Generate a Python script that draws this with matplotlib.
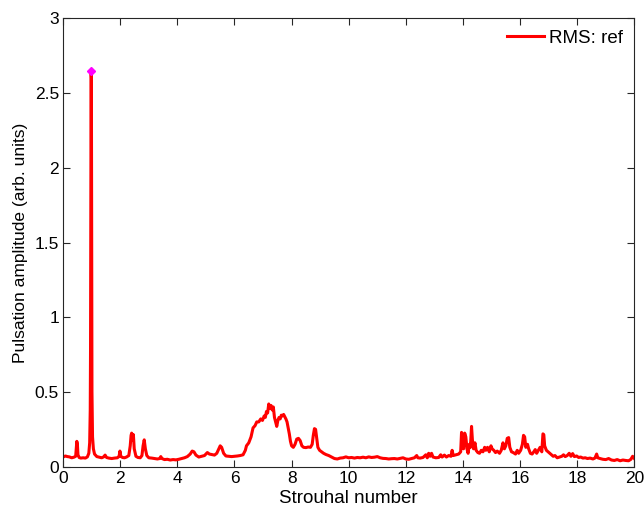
import matplotlib
matplotlib.use("Agg")
import matplotlib.pyplot as plt

plt.rcParams['font.family'] = ['Liberation Sans', 'DejaVu Sans']

# Spectre de pulsation (RMS) en fonction du nombre de Strouhal
strouhal = [
    0.00, 0.08, 0.15, 0.22, 0.30, 0.38, 0.44, 0.46, 0.48, 0.50, 0.52, 0.56, 0.62, 0.70, 0.78, 0.85,
    0.90, 0.93, 0.95, 0.96, 0.97, 0.98, 0.99, 1.00, 1.01, 1.03, 1.06, 1.10, 1.18, 1.26, 1.35, 1.42,
    1.47, 1.52, 1.60, 1.70, 1.80, 1.90, 1.96, 1.99, 2.02, 2.08, 2.15, 2.22, 2.30, 2.35, 2.38, 2.40,
    2.43, 2.46, 2.49, 2.55, 2.62, 2.70, 2.76, 2.80, 2.84, 2.88, 2.93, 3.00, 3.10, 3.20, 3.30, 3.38,
    3.42, 3.46, 3.55, 3.65, 3.75, 3.85, 3.95, 4.05, 4.15, 4.25, 4.35, 4.45, 4.52, 4.58, 4.65, 4.75,
    4.85, 4.95, 5.05, 5.12, 5.20, 5.30, 5.38, 5.45, 5.50, 5.55, 5.62, 5.70, 5.80, 5.90, 6.00, 6.10,
    6.20, 6.30, 6.38, 6.42, 6.50, 6.58, 6.65, 6.72, 6.78, 6.85, 6.92, 6.98, 7.04, 7.08, 7.12, 7.16,
    7.20, 7.24, 7.28, 7.32, 7.36, 7.40, 7.44, 7.48, 7.52, 7.56, 7.60, 7.64, 7.68, 7.72, 7.76, 7.80,
    7.84, 7.88, 7.92, 7.96, 8.00, 8.06, 8.12, 8.18, 8.24, 8.30, 8.36, 8.42, 8.50, 8.58, 8.66, 8.72,
    8.76, 8.80, 8.84, 8.88, 8.92, 8.98, 9.05, 9.12, 9.20, 9.30, 9.40, 9.50, 9.60, 9.70, 9.80, 9.90,
    10.00, 10.10, 10.20, 10.30, 10.40, 10.50, 10.60, 10.70, 10.80, 10.90, 11.00, 11.10, 11.20, 11.30,
    11.40, 11.50, 11.60, 11.70, 11.80, 11.90, 12.00, 12.10, 12.20, 12.30, 12.38, 12.42, 12.50, 12.60,
    12.70, 12.75, 12.80, 12.85, 12.90, 12.95, 13.05, 13.15, 13.22, 13.27, 13.35, 13.42, 13.50, 13.58,
    13.62, 13.66, 13.75, 13.85, 13.92, 13.95, 13.98, 14.02, 14.06, 14.10, 14.14, 14.18, 14.22, 14.26,
    14.30, 14.33, 14.37, 14.42, 14.46, 14.52, 14.58, 14.64, 14.70, 14.76, 14.80, 14.86, 14.92, 14.98,
    15.02, 15.08, 15.14, 15.20, 15.28, 15.34, 15.40, 15.45, 15.50, 15.55, 15.60, 15.64, 15.70, 15.76,
    15.84, 15.90, 15.95, 16.02, 16.08, 16.12, 16.16, 16.20, 16.26, 16.30, 16.36, 16.42, 16.48, 16.53,
    16.58, 16.64, 16.70, 16.76, 16.80, 16.83, 16.86, 16.92, 16.98, 17.04, 17.10, 17.16, 17.22, 17.30,
    17.38, 17.46, 17.52, 17.58, 17.65, 17.72, 17.78, 17.84, 17.90, 17.98, 18.05, 18.12, 18.20, 18.28,
    18.36, 18.45, 18.55, 18.62, 18.68, 18.72, 18.80, 18.90, 19.00, 19.10, 19.20, 19.30, 19.40, 19.50,
    19.60, 19.70, 19.80, 19.88, 19.94, 20.00,
]

amplitude = [
    0.065, 0.072, 0.068, 0.066, 0.060, 0.064, 0.070, 0.120, 0.170, 0.150, 0.080, 0.062, 0.058, 0.060, 0.058, 0.066,
    0.090, 0.160, 0.380, 0.780, 1.600, 2.650, 2.600, 1.400, 0.500, 0.200, 0.120, 0.085, 0.068, 0.064, 0.060, 0.066,
    0.078, 0.062, 0.058, 0.055, 0.058, 0.060, 0.070, 0.105, 0.070, 0.062, 0.060, 0.065, 0.075, 0.140, 0.210, 0.225,
    0.180, 0.215, 0.120, 0.070, 0.062, 0.060, 0.075, 0.140, 0.180, 0.120, 0.075, 0.060, 0.058, 0.055, 0.052, 0.055,
    0.068, 0.055, 0.048, 0.050, 0.045, 0.048, 0.046, 0.050, 0.055, 0.060, 0.068, 0.085, 0.105, 0.100, 0.078, 0.065,
    0.070, 0.075, 0.095, 0.085, 0.082, 0.078, 0.090, 0.120, 0.140, 0.130, 0.090, 0.072, 0.070, 0.068, 0.070, 0.072,
    0.075, 0.080, 0.110, 0.140, 0.160, 0.200, 0.260, 0.275, 0.300, 0.300, 0.320, 0.310, 0.340, 0.330, 0.370, 0.360,
    0.420, 0.390, 0.410, 0.380, 0.400, 0.330, 0.300, 0.270, 0.310, 0.330, 0.320, 0.345, 0.340, 0.350, 0.335, 0.320,
    0.300, 0.260, 0.220, 0.170, 0.140, 0.130, 0.150, 0.185, 0.190, 0.175, 0.140, 0.130, 0.128, 0.132, 0.130, 0.150,
    0.210, 0.255, 0.250, 0.190, 0.130, 0.110, 0.100, 0.090, 0.082, 0.075, 0.065, 0.055, 0.052, 0.058, 0.060, 0.066,
    0.060, 0.062, 0.058, 0.062, 0.060, 0.064, 0.060, 0.066, 0.062, 0.064, 0.068, 0.060, 0.056, 0.055,
    0.052, 0.054, 0.055, 0.052, 0.056, 0.060, 0.052, 0.050, 0.055, 0.060, 0.075, 0.060, 0.058, 0.062,
    0.080, 0.060, 0.090, 0.070, 0.090, 0.065, 0.060, 0.062, 0.080, 0.065, 0.078, 0.065, 0.075, 0.070,
    0.110, 0.075, 0.080, 0.085, 0.100, 0.230, 0.200, 0.120, 0.225, 0.200, 0.120, 0.090, 0.150, 0.130,
    0.270, 0.180, 0.120, 0.160, 0.110, 0.095, 0.090, 0.110, 0.100, 0.130, 0.110, 0.130, 0.100, 0.140,
    0.120, 0.110, 0.095, 0.105, 0.090, 0.110, 0.160, 0.120, 0.140, 0.190, 0.195, 0.130, 0.100, 0.095,
    0.085, 0.110, 0.090, 0.110, 0.150, 0.210, 0.200, 0.130, 0.150, 0.120, 0.090, 0.085, 0.100, 0.115,
    0.090, 0.110, 0.130, 0.100, 0.220, 0.215, 0.140, 0.110, 0.100, 0.090, 0.080, 0.070, 0.075, 0.060,
    0.065, 0.070, 0.080, 0.068, 0.075, 0.090, 0.070, 0.088, 0.068, 0.072, 0.062, 0.065, 0.058, 0.060,
    0.055, 0.058, 0.052, 0.058, 0.085, 0.060, 0.055, 0.050, 0.048, 0.055, 0.045, 0.042, 0.048, 0.040,
    0.045, 0.042, 0.040, 0.050, 0.070, 0.055,
]

# pic principal
pic_x = 0.98
pic_y = 2.65

fig = plt.figure(figsize=(6.44, 5.09), dpi=100)
ax = fig.add_axes([0.098, 0.083, 0.887, 0.881])

ax.plot(strouhal, amplitude, color="red", linewidth=2.2, label="RMS: ref")
ax.plot([pic_x], [pic_y], "D", color="magenta", markersize=4, label="_nolegend_")

ax.set_xlim(0, 20)
ax.set_ylim(0, 3)
ax.set_xticks(range(0, 21, 2))
ax.set_yticks([0, 0.5, 1, 1.5, 2, 2.5, 3])
ax.set_yticklabels(["0", "0.5", "1", "1.5", "2", "2.5", "3"])
ax.tick_params(direction="in", top=True, right=True, length=5, width=0.8,
               labelsize=12.5, pad=3, color="#262626")
for s in ax.spines.values():
    s.set_linewidth(0.8)
    s.set_color("#262626")

ax.set_xlabel("Strouhal number", fontsize=13.5, labelpad=3)
ax.set_ylabel("Pulsation amplitude (arb. units)", fontsize=12.5, labelpad=5)
ax.legend(loc="upper right", frameon=False, fontsize=13.5, handlelength=2.0,
          handletextpad=0.25, borderaxespad=0.2)

fig.savefig("out.png", dpi=100)
